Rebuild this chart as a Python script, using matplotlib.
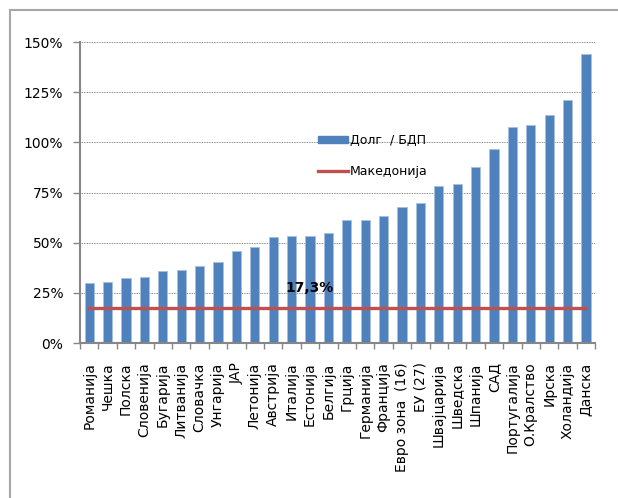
import matplotlib.pyplot as plt
import matplotlib.patches as mpatches
from matplotlib.lines import Line2D
from matplotlib.ticker import FuncFormatter

countries = ["Романија", "Чешка", "Полска", "Словенија", "Бугарија", "Литванија",
             "Словачка", "Унгарија", "ЈАР", "Летонија", "Австрија", "Италија",
             "Естонија", "Белгија", "Грција", "Германија", "Франција",
             "Евро зона  (16)", "ЕУ (27)", "Швајцарија", "Шведска", "Шпанија",
             "САД", "Португалија", "О.Кралство", "Ирска", "Холандија", "Данска"]
debt_gdp = [29.8, 30.4, 32.4, 33.0, 35.7, 36.4, 38.4, 40.4, 45.8, 47.8, 52.7, 53.2,
            53.3, 54.7, 61.3, 61.3, 63.3, 67.6, 69.6, 78.4, 79.1, 87.9, 96.5,
            107.5, 108.6, 113.4, 121.1, 143.8]
macedonia = 17.3

plt.rcParams['font.family'] = ['DejaVu Sans']

fig = plt.figure(figsize=(6.18, 4.98), dpi=100)
ax = fig.add_axes([0.1294, 0.3112, 0.8336, 0.6044])

# outer frame (only left/top edges fall inside the image)
fig.patches.append(mpatches.Rectangle((10 / 618, -0.1), 1.2, (488 / 498) + 0.1,
                                      transform=fig.transFigure, fill=False,
                                      edgecolor='#a6a6a6', linewidth=1.5))

x = list(range(len(countries)))
ax.bar(x, debt_gdp, width=0.5, color='#4F81BD', edgecolor='#a8c0e0',
       linewidth=0.6, zorder=2, label='Долг  / БДП')
ax.plot([x[0], x[-1]], [macedonia, macedonia], color='#C0504D', linewidth=2.4,
        zorder=3, label='Македонија')
ax.text(12, macedonia + 10, f"{macedonia}%".replace('.', ','), ha='center',
        va='center', fontsize=10, fontweight='bold', zorder=4)

ax.set_xlim(-0.5, len(countries) - 0.5)
ax.set_ylim(0, 150)
ax.set_yticks([0, 25, 50, 75, 100, 125, 150])
ax.yaxis.set_major_formatter(FuncFormatter(lambda v, p: f"{v:.0f}%"))
ax.tick_params(axis='y', labelsize=10, length=5, width=1, color='#868686', pad=7)

# category ticks sit between bars, labels centred under bars
ax.set_xticks([i - 0.5 for i in range(len(countries) + 1)])
ax.set_xticklabels([])
ax.set_xticks(x, minor=True)
ax.set_xticklabels(countries, minor=True, rotation=90, fontsize=10, va='top')
ax.tick_params(axis='x', which='major', length=4, width=1, color='#868686')
ax.tick_params(axis='x', which='minor', length=0, pad=14)

ax.grid(axis='y', linestyle=(0, (1, 1)), color='#666666', linewidth=0.6, zorder=0)
ax.set_axisbelow(True)
for s in ['top', 'right']:
    ax.spines[s].set_visible(False)
for s in ['left', 'bottom']:
    ax.spines[s].set_color('#868686')
    ax.spines[s].set_linewidth(1.5)

handles = [mpatches.Patch(color='#4F81BD'), Line2D([], [], color='#C0504D', linewidth=2.4)]
ax.legend(handles, ['Долг  / БДП', 'Македонија'], loc='upper left',
          bbox_to_anchor=(0.445, 0.725), frameon=False, fontsize=9,
          handlelength=2.4, handleheight=0.5, labelspacing=1.5, handletextpad=0.15,
          borderaxespad=0.3)

fig.savefig('out.png', dpi=100)
